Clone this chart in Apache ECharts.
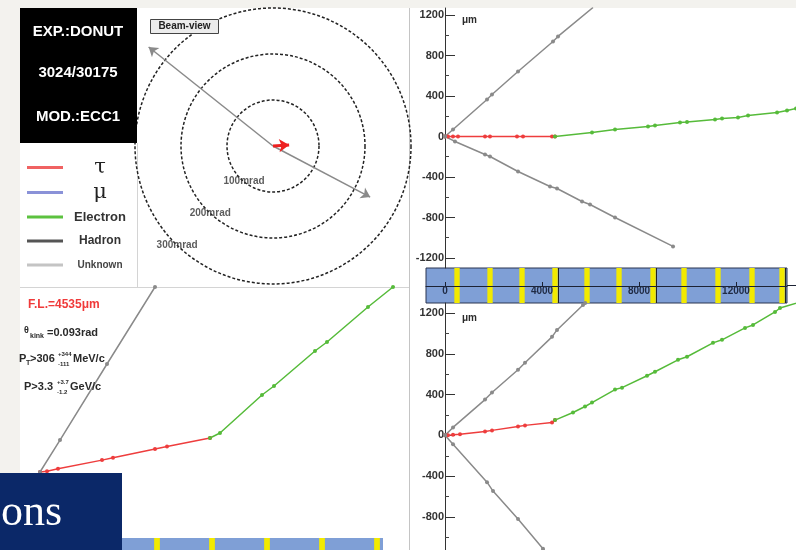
<!DOCTYPE html>
<html><head><meta charset="utf-8">
<script src="https://cdn.jsdelivr.net/npm/echarts@6/dist/echarts.min.js"></script>
<style>html,body{margin:0;padding:0;background:#f3f2ee}#c{width:796px;height:550px}</style>
</head><body><div id="c"></div>
<script>
// ---------- data (μm unless noted) ----------
const legendNames = ['τ', 'μ', 'Electron', 'Hadron', 'Unknown'];
const yTickLabels = [-1200, -800, -400, 0, 400, 800, 1200];
const yMinorTicks = [-1000, -600, -200, 200, 600, 1000];
const depthTickLabels = [0, 4000, 8000, 12000];
const ringRadii = [100, 200, 300];   // mrad
const ringLabelAngles = [231, 227, 226]; // deg, where each ring label sits

// top view (upper right panel)
const topTau = [[0,0],[124,0],[330,0],[536,0],[1650,0],[1856,0],[2969,0],[3217,0],[4413,0],[4535,0]];
const topElectron = [[4535,0],[6062,40],[7011,69],[8372,99],[8660,109],[9691,138],[9980,143],[11135,168],[11423,178],[12083,188],[12496,207],[13692,237],[14104,257],[14475,277]];
const topHadronA = [[0,0],[330,69],[1732,365],[1938,415],[3011,642],[4454,938],[4660,988],[6104,1274]];
const topHadronB = [[0,0],[412,-49],[1650,-178],[1856,-198],[3011,-346],[4330,-494],[4619,-514],[5650,-642],[5980,-672],[7011,-800],[9403,-1086]];

// side view (lower right panel)
const sideTau = [[0,0],[124,0],[330,5],[619,10],[1650,39],[1938,49],[3011,88],[3299,98],[4413,127],[4535,150]];
const sideElectron = [[4535,150],[5279,224],[5774,283],[6062,322],[7011,449],[7300,468],[8331,585],[8660,624],[9609,741],[9980,771],[11052,907],[11423,937],[12372,1054],[12702,1083],[13609,1210],[13815,1249],[14516,1298]];
const sideHadronA = [[0,0],[330,78],[1650,351],[1938,420],[3011,644],[3299,712],[4413,966],[4619,1034],[5691,1278],[5780,1298]];
const sideHadronB = [[0,0],[330,-88],[1732,-459],[1980,-546],[3011,-820],[4041,-1112],[4400,-1210]];

// emulsion plate positions (depth, μm)
const platesTop = [495,1856,3175,4536,5856,7176,8578,9856,11258,12660,13898];
const darkLinesTop = [4680,8720,14040];

// 3D view (lower left panel)
const viewTau = [[0,0],[171,20],[439,80],[1513,290],[1781,350],[2806,560],[3099,620],[4148,830]];
const viewElectron = [[4148,830],[4392,952],[5417,1879],[5710,2098],[6710,2952],[7003,3172],[8003,4026],[8613,4514],[8700,4600]];
const viewHadron = [[0,0],[488,780],[1635,2635],[2806,4514],[2900,4660]];
const platesView = [2855,4197,5539,6881,8223];

// beam view (mrad)
const beamHadronEnds = [[-270,215],[211,-111]];
const beamTauEnd = [35,2];

// ---------- styling ----------
const RED = '#ee3d3d', GREEN = '#56bb3a', GRAY = '#8a8a8a';
const legendColors = ['#f06262', '#8a92d8', '#5cc23f', '#555555', '#c4c4c4'];
const legendKeys = {'τ':'g','μ':'g','Electron':'e','Hadron':'h','Unknown':'u'};
const FONT = 'Liberation Sans';
const plain = v => String(v);

function track(name, data, xi, yi, color) {
  return {type:'line', name, data, xAxisIndex:xi, yAxisIndex:yi, color,
    symbol:'circle', symbolSize:4, showSymbol:true, silent:true, z:3,
    lineStyle:{width:1.5, color}, itemStyle:{color}};
}
function yMain(gi, min, max) {
  return {gridIndex:gi, type:'value', min, max, position:'left',
    axisLine:{show:true, lineStyle:{color:'#333', width:1}},
    axisTick:{show:true, customValues:yTickLabels, inside:true, length:10, lineStyle:{color:'#333'}},
    axisLabel:{show:true, customValues:yTickLabels, formatter:plain, margin:1, fontSize:11, fontWeight:'bold', color:'#333', fontFamily:FONT},
    splitLine:{show:false}};
}
function yMinor(gi, min, max) {
  return {gridIndex:gi, type:'value', min, max, position:'left',
    axisLine:{show:false},
    axisTick:{show:true, customValues:yMinorTicks, inside:true, length:4, lineStyle:{color:'#444'}},
    axisLabel:{show:false}, splitLine:{show:false}};
}
function hidden(gi, min, max) { return {gridIndex:gi, type:'value', min, max, show:false}; }

const labelText = (t, x, y, size, extra) => ({type:'text', x, y, z:60,
  style:Object.assign({text:t, fontSize:size, fontWeight:'bold', fill:'#2a2a2a', fontFamily:FONT, verticalAlign:'middle'}, extra||{})});

const chart = echarts.init(document.getElementById('c'), null, {renderer:'canvas'});
chart.setOption({
  animation:false,
  textStyle:{fontFamily:FONT},
  grid:[
    {left:445, top:8, width:351, height:260},
    {left:426, top:268, width:361, height:35, show:true, backgroundColor:'#7f9fd6', borderColor:'#2a3550', borderWidth:1},
    {left:445, top:303, width:351, height:247},
    {left:127, top:0, width:292, height:292},
    {left:20, top:287, width:389, height:263},
    {left:100, top:538, width:283, height:12, show:true, backgroundColor:'#7f9fd6', borderWidth:0}
  ],
  xAxis:[
    hidden(0, 0, 14474),
    {gridIndex:1, type:'value', min:-784, max:14103, position:'bottom', offset:-18, z:5,
      axisLine:{show:true, lineStyle:{color:'#1c2233', width:1}},
      axisTick:{show:true, customValues:depthTickLabels, inside:true, length:4, lineStyle:{color:'#1c2233'}},
      axisLabel:{show:true, customValues:depthTickLabels, formatter:plain, margin:1, fontSize:10, fontWeight:'bold', color:'#1f2a44'},
      splitLine:{show:false}},
    hidden(2, 0, 14474),
    hidden(3, -317, 317),
    hidden(4, -488, 9004),
    hidden(5, 1464, 8369)
  ],
  yAxis:[
    yMain(0, -1299, 1269),
    yMinor(0, -1299, 1269),
    hidden(1, 0, 1),
    yMain(2, -1124, 1298),
    yMinor(2, -1124, 1298),
    hidden(3, -317, 317),
    hidden(4, -1903, 4514),
    hidden(5, 0, 1)
  ],
  polar:{center:[273,146], radius:138},
  angleAxis:{type:'value', min:0, max:360, startAngle:0, clockwise:false, show:false},
  radiusAxis:{type:'value', min:0, max:300, interval:100,
    axisLine:{show:false}, axisTick:{show:false}, axisLabel:{show:false},
    splitLine:{show:true, lineStyle:{color:'#222', width:1.5, type:[3,2]}}},
  legend:{orient:'vertical', left:22, top:152, itemWidth:36, itemHeight:3, itemGap:4, icon:'rect',
    selectedMode:false,
    data:legendNames.map((n,i)=>({name:n, itemStyle:{color:legendColors[i]}})),
    formatter:n=>'{'+legendKeys[n]+'|'+n+'}',
    textStyle:{rich:{
      g:{fontFamily:'DejaVu Serif', fontSize:21, width:64, height:20, align:'center', lineHeight:20, color:'#222'},
      e:{fontFamily:FONT, fontSize:13, fontWeight:'bold', width:64, height:20, align:'center', lineHeight:20, color:'#333'},
      h:{fontFamily:FONT, fontSize:12, fontWeight:'bold', width:64, height:20, align:'center', lineHeight:20, color:'#333'},
      u:{fontFamily:FONT, fontSize:10, fontWeight:'bold', width:64, height:20, align:'center', lineHeight:20, color:'#444'}
    }}},
  series:[
    // top view
    track('τ', topTau, 0, 0, RED),
    track('Electron', topElectron, 0, 0, GREEN),
    track('Hadron', topHadronA, 0, 0, GRAY),
    track('Hadron', topHadronB, 0, 0, GRAY),
    // plate bar
    {type:'line', xAxisIndex:1, yAxisIndex:2, data:[], silent:true,
      markArea:{silent:true, itemStyle:{color:'#f2ea00', opacity:1},
        data:platesTop.map(p=>[{xAxis:p-110},{xAxis:p+110}])},
      markLine:{silent:true, symbol:'none', label:{show:false},
        lineStyle:{color:'#222', width:1, type:'solid'},
        data:darkLinesTop.map(p=>({xAxis:p}))}},
    // side view
    track('τ', sideTau, 2, 3, RED),
    track('Electron', sideElectron, 2, 3, GREEN),
    track('Hadron', sideHadronA, 2, 3, GRAY),
    track('Hadron', sideHadronB, 2, 3, GRAY),
    // beam view
    {type:'lines', coordinateSystem:'cartesian2d', xAxisIndex:3, yAxisIndex:5, silent:true, z:4,
      symbol:['none','arrow'], symbolSize:9, lineStyle:{color:GRAY, width:1.5, opacity:1},
      data:beamHadronEnds.map(e=>({coords:[[0,0],e]}))},
    {type:'lines', coordinateSystem:'cartesian2d', xAxisIndex:3, yAxisIndex:5, silent:true, z:5,
      symbol:['none','arrow'], symbolSize:10, lineStyle:{color:'#ee2020', width:3, opacity:1},
      data:[{coords:[[0,0],beamTauEnd]}]},
    {type:'scatter', coordinateSystem:'polar', silent:true, symbolSize:2, z:6,
      itemStyle:{color:'rgba(0,0,0,0)'},
      data:ringRadii.map((r,i)=>[r, ringLabelAngles[i]]),
      label:{show:true, position:'inside', formatter:p=>p.value[0]+'mrad', fontSize:10, fontWeight:'bold', color:'#333'}},
    // 3D view
    track('τ', viewTau, 4, 6, RED),
    track('Electron', viewElectron, 4, 6, GREEN),
    track('Hadron', viewHadron, 4, 6, GRAY),
    {type:'line', xAxisIndex:5, yAxisIndex:7, data:[], silent:true,
      markArea:{silent:true, itemStyle:{color:'#f2ea00', opacity:1},
        data:platesView.map(p=>[{xAxis:p-70},{xAxis:p+70}])}},
    // legend-only
    {type:'line', name:'μ', data:[], color:legendColors[1]},
    {type:'line', name:'Unknown', data:[], color:legendColors[4]}
  ],
  graphic:[
    {type:'rect', z:-20, shape:{x:0,y:0,width:796,height:550}, style:{fill:'#f3f2ee'}},
    {type:'rect', z:-19, shape:{x:20,y:8,width:776,height:542}, style:{fill:'#ffffff'}},
    {type:'line', z:-18, shape:{x1:409.5,y1:8,x2:409.5,y2:550}, style:{stroke:'#c4c4c4', lineWidth:1}},
    {type:'line', z:-18, shape:{x1:20,y1:287.5,x2:409,y2:287.5}, style:{stroke:'#d4d4d4', lineWidth:1}},
    {type:'line', z:-18, shape:{x1:137.5,y1:143,x2:137.5,y2:287}, style:{stroke:'#d4d4d4', lineWidth:1}},
    {type:'line', z:10, shape:{x1:787,y1:285.5,x2:796,y2:285.5}, style:{stroke:'#1c2233', lineWidth:1}},
    {type:'rect', z:50, shape:{x:20,y:8,width:117,height:135}, style:{fill:'#000000'}},
    {type:'text', z:51, x:78, y:32, style:{text:'EXP.:DONUT', fill:'#fff', fontSize:15, fontWeight:'bold', fontFamily:FONT, align:'center', verticalAlign:'middle'}},
    {type:'text', z:51, x:78, y:73, style:{text:'3024/30175', fill:'#fff', fontSize:15, fontWeight:'bold', fontFamily:FONT, align:'center', verticalAlign:'middle'}},
    {type:'text', z:51, x:78, y:117, style:{text:'MOD.:ECC1', fill:'#fff', fontSize:15, fontWeight:'bold', fontFamily:FONT, align:'center', verticalAlign:'middle'}},
    {type:'rect', z:55, shape:{x:150.5,y:19.5,width:68,height:14}, style:{fill:'#ececec', stroke:'#444', lineWidth:1}},
    {type:'text', z:56, x:184.5, y:26.5, style:{text:'Beam-view', fill:'#222', fontSize:10, fontWeight:'bold', fontFamily:FONT, align:'center', verticalAlign:'middle'}},
    labelText('μm', 462, 20, 10),
    labelText('μm', 462, 318, 10),
    labelText('F.L.=4535μm', 28, 305, 12, {fill:'#f03a3a'}),
    labelText('θ', 24, 331, 9),
    labelText('kink', 30, 336, 7),
    labelText('=0.093rad', 47, 333, 11),
    labelText('P', 19, 359, 11),
    labelText('T', 26, 363, 7),
    labelText('>306', 30, 359, 11),
    labelText('+344', 58, 354, 6),
    labelText('-111', 58, 364, 6),
    labelText('MeV/c', 73, 359, 11),
    labelText('P>3.3', 24, 387, 11),
    labelText('+3.7', 57, 382, 6),
    labelText('-1.2', 57, 392, 6),
    labelText('GeV/c', 70, 387, 11),
    {type:'rect', z:100, shape:{x:0,y:473,width:122,height:77}, style:{fill:'#0b2868'}},
    {type:'text', z:101, x:1, y:513, style:{text:'ons', fill:'#ffffff', fontSize:44, fontFamily:'Liberation Serif', verticalAlign:'middle'}}
  ]
});
</script></body></html>
